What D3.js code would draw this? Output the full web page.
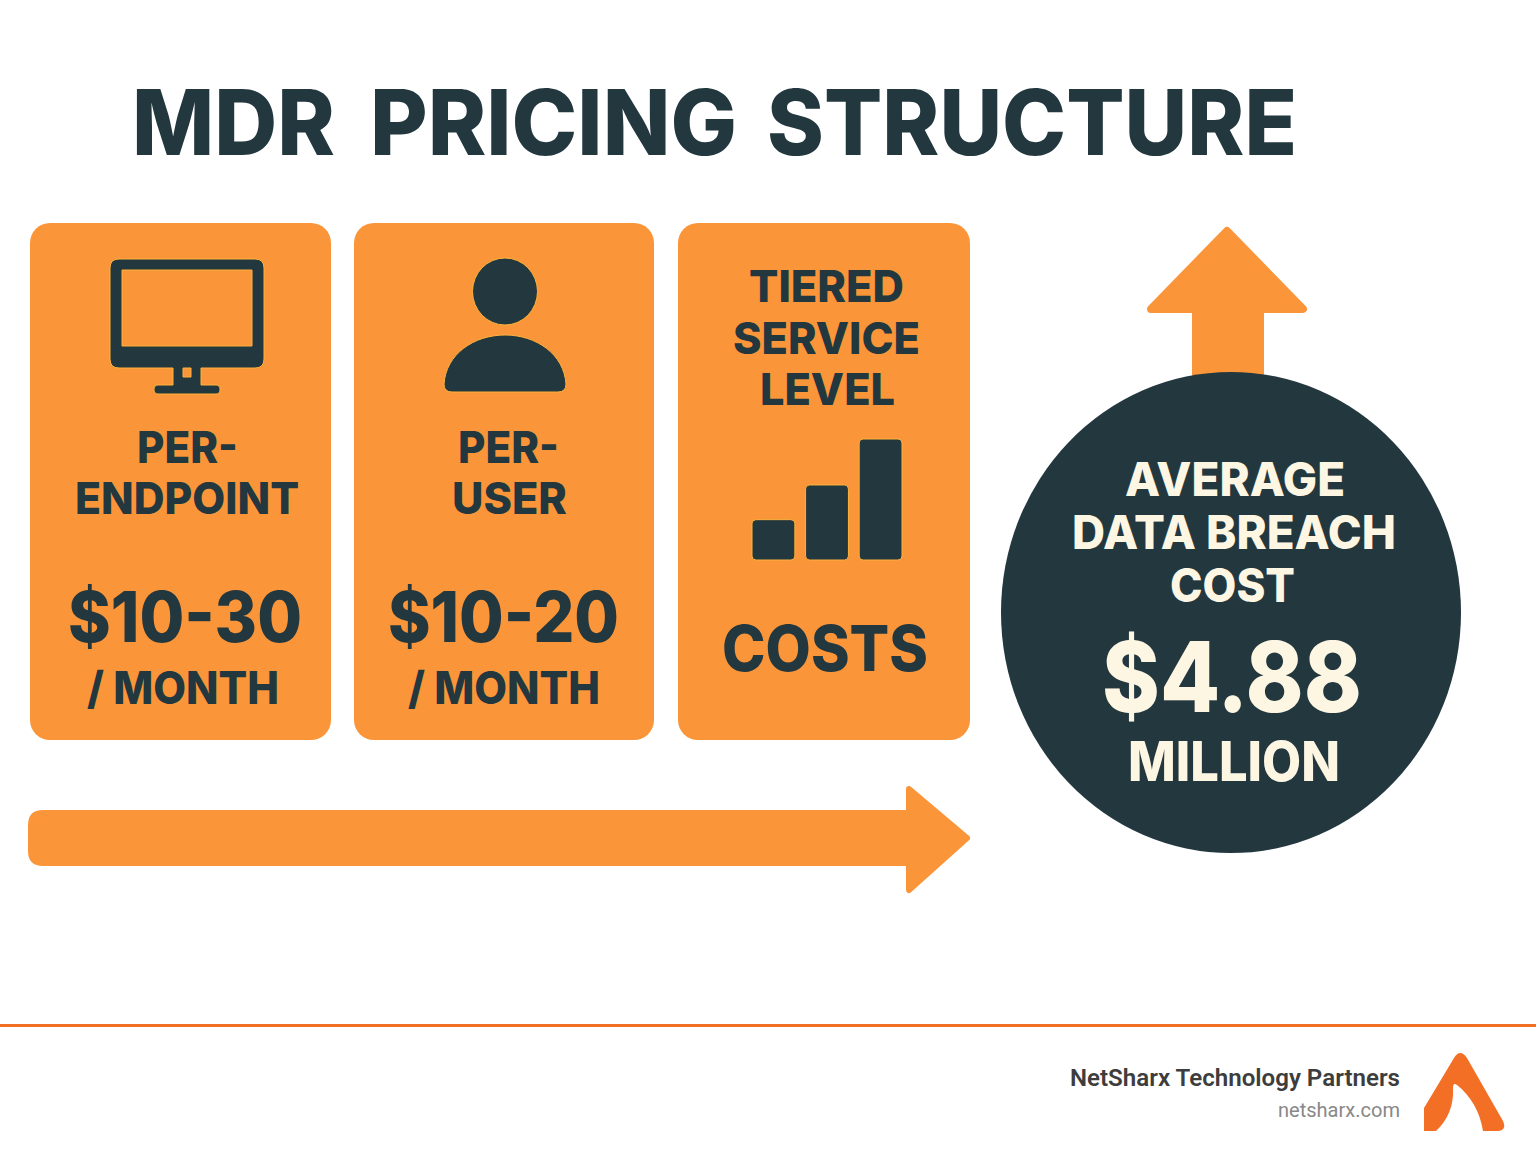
<!DOCTYPE html>
<html><head><meta charset="utf-8">
<script src="https://cdn.jsdelivr.net/npm/d3@7"></script>
<style>html,body{margin:0;padding:0;background:#fff}svg{display:block}text{font-family:Inter,Roboto,sans-serif}</style>
</head><body><div id="c"></div>
<script>
const titleWords = ["MDR","PRICING","STRUCTURE"];
const cardTitles = [["PER-","ENDPOINT"],["PER-","USER"],["TIERED","SERVICE","LEVEL"]];
const cardPrices = ["$10-30","$10-20","COSTS"];
const cardUnits = ["/ MONTH","/ MONTH",""];
const tierLevels = [1, 1.86, 3];
const breachLabel = ["AVERAGE","DATA BREACH","COST"];
const breachValue = "$4.88";
const breachUnit = "MILLION";
const footerName = "NetSharx Technology Partners";
const footerUrl = "netsharx.com";

const ORANGE="#fb9539", DARK="#23373f", CREAM="#fdf6e3", LINE="#f36f26", HALO="#fdb33a";
const svg=d3.select("#c").append("svg").attr("width",1536).attr("height",1154).attr("viewBox","0 0 1536 1154");
svg.append("rect").attr("width",1536).attr("height",1154).attr("fill","#fff");

function label(str,x0,x1,base,size,fill,opt={}){
  return svg.append("text").text(str).attr("x",x0).attr("y",base)
    .attr("font-size",size).attr("font-weight",opt.weight||800).attr("fill",fill)
    .attr("textLength",x1-x0).attr("lengthAdjust","spacingAndGlyphs")
    .style("font-family",opt.family||"Inter,Roboto,sans-serif");
}
// title
label(titleWords[0],132,335,155,91,DARK);
label(titleWords[1],370,737,155,91,DARK);
label(titleWords[2],767,1297,155,91,DARK);

// cards
const cardX=[[30,331],[354,654],[678,970]];
svg.selectAll("rect.card").data(cardX).join("rect").attr("class","card")
  .attr("x",d=>d[0]).attr("y",223).attr("width",d=>d[1]-d[0]).attr("height",517).attr("rx",20).attr("fill",ORANGE);

// icons
const g=svg.append("g").attr("fill",DARK).attr("stroke",HALO).attr("stroke-width",1);
g.append("path").attr("fill-rule","evenodd").attr("d",
 "M119 259H255Q264 259 264 268V359Q264 368 255 368H201V385H216Q220 385 220 389.500Q220 394 216 394H158Q154 394 154 389.500Q154 385 158 385H173V368H119Q110 368 110 359V268Q110 259 119 259Z"+
 "M122 270V346H252V270Z M183 368V377H191V368Z");
g.append("ellipse").attr("cx",505).attr("cy",291.500).attr("rx",32.500).attr("ry",33.500);
g.append("path").attr("d","M452 392Q444 392 444 384C446 354 474 335 505 335C536 335 564 354 566 384Q566 392 558 392Z");
const tx=d3.scaleBand().domain(d3.range(tierLevels.length)).range([752,902]).paddingInner(0.2).paddingOuter(0);
const ty=d3.scaleLinear().domain([0,3]).range([560,439]);
g.selectAll("rect.tier").data(tierLevels).join("rect").attr("class","tier")
  .attr("x",(d,i)=>tx(i)).attr("width",tx.bandwidth()).attr("y",d=>ty(d)).attr("height",d=>560-ty(d)).attr("rx",4);

// card texts
label(cardTitles[0][0],137,238,463,44,DARK);
label(cardTitles[0][1],75,299,514,44,DARK);
label(cardPrices[0],68,302,642,70,DARK);
label(cardUnits[0],87,279,704,45,DARK);
label(cardTitles[1][0],458,559,463,44,DARK);
label(cardTitles[1][1],452,567,514,44,DARK);
label(cardPrices[1],388,619,642,70,DARK);
label(cardUnits[1],408,600,704,45,DARK);
label(cardTitles[2][0],749,904,302,44,DARK);
label(cardTitles[2][1],733,920,354,44,DARK);
label(cardTitles[2][2],760,895,405,44,DARK);
label(cardPrices[2],722,928,671,63,DARK);

// horizontal arrow
svg.append("path").attr("fill",ORANGE).attr("stroke",ORANGE).attr("stroke-width",6).attr("stroke-linejoin","round")
 .attr("d","M43 813H909V789L967 838L909 890V863H43Q31 863 31 851V825Q31 813 43 813Z");
// up arrow
svg.append("path").attr("fill",ORANGE).attr("stroke",ORANGE).attr("stroke-width",8).attr("stroke-linejoin","round")
 .attr("d","M1227 231L1303 309H1260V400H1196V309H1151Z");
// circle
svg.append("ellipse").attr("cx",1231).attr("cy",612.500).attr("rx",230).attr("ry",240.500).attr("fill",DARK);
label(breachLabel[0],1125,1345,496,46,CREAM);
label(breachLabel[1],1072,1396,549,46,CREAM);
label(breachLabel[2],1170,1295,602,46,CREAM);
label(breachValue,1102,1362,712,98,CREAM);
label(breachUnit,1128,1340,781,55,CREAM);

// footer
svg.append("rect").attr("x",0).attr("y",1024).attr("width",1536).attr("height",3).attr("fill",LINE);
label(footerName,1070,1400,1086,24,"#3d3d3d",{weight:600,family:"Roboto,sans-serif"});
label(footerUrl,1278,1400,1117,20,"#888888",{weight:400,family:"Roboto,sans-serif"});
svg.append("path").attr("fill",LINE)
 .attr("d","M1424 1108L1454 1058Q1460 1048 1467 1058L1503 1121Q1507 1130 1498 1131H1483C1480 1112 1471 1096 1457 1085Q1453 1082 1453 1088C1454 1105 1448 1120 1436 1131H1424Z");
</script></body></html>
